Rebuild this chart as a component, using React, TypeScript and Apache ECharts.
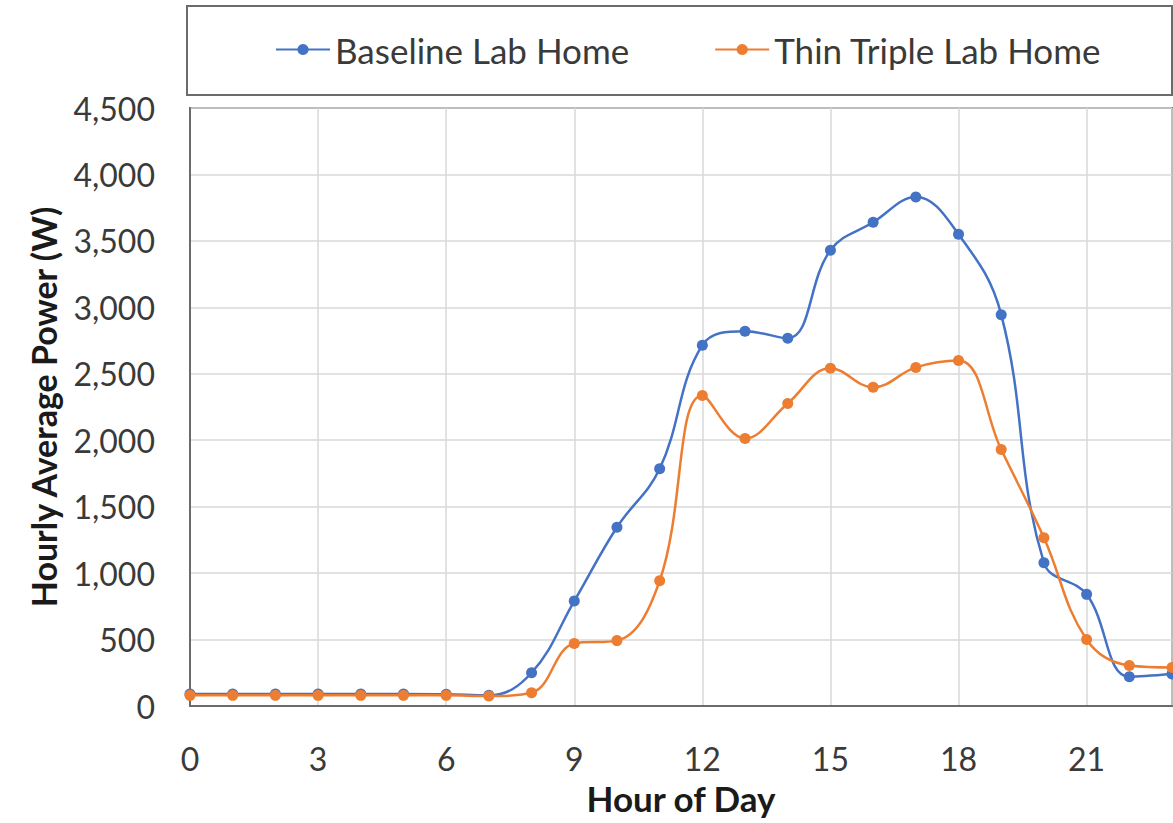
import React, { useEffect, useRef } from "react";
import * as echarts from "echarts";

const hours = [0, 1, 2, 3, 4, 5, 6, 7, 8, 9, 10, 11, 12, 13, 14, 15, 16, 17, 18, 19, 20, 21, 22, 23];
const baseline = [90, 90, 90, 90, 90, 90, 88, 80, 250, 790, 1345, 1785, 2715, 2820, 2767, 3430, 3640, 3830, 3550, 2945, 1078, 840, 220, 240];
const thinTriple = [80, 80, 80, 80, 80, 80, 80, 75, 100, 470, 492, 942, 2337, 2013, 2277, 2541, 2398, 2548, 2600, 1930, 1266, 500, 305, 290];
const seriesNames = ["Baseline Lab Home", "Thin Triple Lab Home"];
const xTitle = "Hour of Day";
const yTitle = "Hourly Average Power (W)";

const FONT = "Lato";

export default function App() {
  const ref = useRef<HTMLDivElement>(null);
  useEffect(() => {
    if (!ref.current) return;
    const chart = echarts.init(ref.current, undefined, { renderer: "svg" });
    const mk = (vals: number[]) => hours.map((h, i) => [h, vals[i]]);
    chart.setOption({
      animation: false,
      backgroundColor: "#ffffff",
      textStyle: { fontFamily: FONT },
      graphic: [
        {
          type: "rect",
          z: -1,
          shape: { x: 187, y: 6, width: 985, height: 89 },
          style: { fill: "#ffffff", stroke: "#6b6b6b", lineWidth: 2 },
        },
      ],
      legend: {
        left: 270,
        top: 27,
        itemWidth: 54,
        itemHeight: 14,
        itemGap: 85,
        textStyle: { fontFamily: FONT, fontSize: 35, color: "#3a3a3a" },
        data: seriesNames,
      },
      grid: {
        left: 190,
        right: 1,
        top: 108,
        bottom: 117,
        show: true,
        borderColor: "#6b6b6b",
        borderWidth: 2,
      },
      xAxis: {
        type: "value",
        min: 0,
        max: 23,
        interval: 3,
        name: xTitle,
        nameLocation: "middle",
        nameGap: 74,
        nameTextStyle: { fontFamily: FONT, fontSize: 35, fontWeight: "bold", color: "#1a1a1a" },
        axisLine: { show: true, lineStyle: { color: "#6b6b6b", width: 2 } },
        axisTick: { show: false },
        axisLabel: {
          fontFamily: FONT,
          fontSize: 32,
          color: "#3a3a3a",
          margin: 36,
          showMaxLabel: false,
          formatter: (v: number) => (v % 3 === 0 ? String(v) : ""),
        },
        splitLine: { show: true, lineStyle: { color: "#d9d9d9", width: 1.5 } },
      },
      yAxis: {
        type: "value",
        min: 0,
        max: 4500,
        interval: 500,
        name: yTitle,
        nameLocation: "middle",
        nameGap: 130,
        nameTextStyle: { fontFamily: FONT, fontSize: 34, fontWeight: "bold", color: "#1a1a1a" },
        axisLine: { show: true, lineStyle: { color: "#6b6b6b", width: 2 } },
        axisTick: { show: false },
        axisLabel: {
          fontFamily: FONT,
          fontSize: 32,
          color: "#3a3a3a",
          margin: 35,
          formatter: (v: number) => v.toLocaleString("en-US"),
        },
        splitLine: { show: true, lineStyle: { color: "#d9d9d9", width: 1.5 } },
      },
      series: [
        {
          name: seriesNames[0],
          type: "line",
          data: mk(baseline),
          smooth: 0.4,
          symbol: "circle",
          symbolSize: 11,
          color: "#4472C4",
          lineStyle: { width: 2.5, color: "#4472C4" },
          itemStyle: { color: "#4472C4" },
          z: 2,
        },
        {
          name: seriesNames[1],
          type: "line",
          data: mk(thinTriple),
          smooth: 0.4,
          symbol: "circle",
          symbolSize: 11,
          color: "#ED7D31",
          lineStyle: { width: 2.5, color: "#ED7D31" },
          itemStyle: { color: "#ED7D31" },
          z: 3,
        },
      ],
    });
    return () => chart.dispose();
  }, []);
  return (
    <div
      ref={ref}
      style={{ position: "absolute", left: 0, top: 0, width: 1173, height: 823 }}
    />
  );
}
